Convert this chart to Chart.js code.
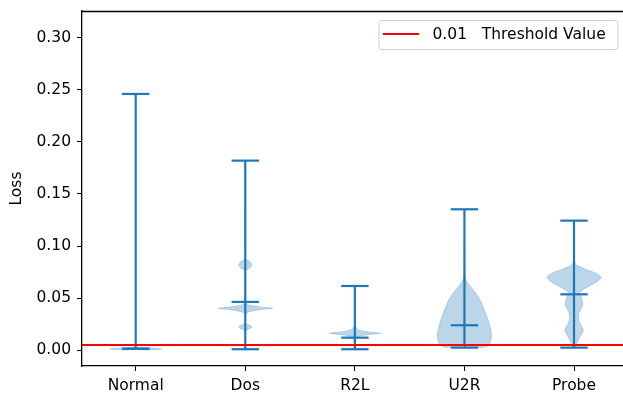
<!DOCTYPE html>
<html>
<head>
<meta charset="utf-8">
<script src="https://cdn.jsdelivr.net/npm/chart.js@4.4.0/dist/chart.umd.min.js"></script>
<style>
  body { margin: 0; background: #fff; }
  #wrap { width: 623px; height: 397px; }
</style>
</head>
<body>
<div id="wrap"><canvas id="violin" width="623" height="397"></canvas></div>
<script>
// categories and summary stats
var categories = ["Normal", "Dos", "R2L", "U2R", "Probe"];
var lossMin = [0.0013, 0.0010, 0.0010, 0.0025, 0.0025];
var lossMax = [0.246, 0.182, 0.0617, 0.1353, 0.1244];
var lossMedian = [0.0016, 0.0464, 0.0121, 0.0240, 0.0537];
var yTicks = [0, 0.05, 0.10, 0.15, 0.20, 0.25, 0.30];

var threshold = 0.005;
var thresholdLabel = "0.01   Threshold Value";

// violin outlines: loss level and relative half width (1 = widest)
var normalY = [0.0003, 0.0008, 0.0013, 0.0018, 0.0024, 0.0032];
var normalW = [0.3, 0.8, 0.95, 0.8, 0.3, 0];
var dosY = [0.0010, 0.0190, 0.0205, 0.0224, 0.0243, 0.0260, 0.0355, 0.0375, 0.0390, 0.0403, 0.0416, 0.0430, 0.0450, 0.0760, 0.0790, 0.0820, 0.0850, 0.0880, 0.1820];
var dosW = [0, 0, 0.14, 0.24, 0.14, 0, 0.03, 0.22, 0.55, 1.0, 0.55, 0.22, 0.03, 0, 0.17, 0.24, 0.17, 0, 0];
var r2lY = [0.0010, 0.0100, 0.0130, 0.0148, 0.0163, 0.0178, 0.0198, 0.0250, 0.0617];
var r2lW = [0.02, 0.03, 0.12, 0.45, 0.95, 0.45, 0.12, 0, 0];
var u2rY = [0.0025, 0.0040, 0.0080, 0.0150, 0.0260, 0.0350, 0.0480, 0.0580, 0.0640, 0.0700, 0.0800, 0.1000, 0.1353];
var u2rW = [0.62, 0.84, 0.95, 0.99, 0.9, 0.78, 0.58, 0.32, 0.13, 0.03, 0.01, 0.003, 0];
var probeY = [0.0025, 0.0080, 0.0130, 0.0195, 0.0240, 0.0290, 0.0360, 0.0435, 0.0500, 0.0550, 0.0580, 0.0620, 0.0660, 0.0700, 0.0740, 0.0780, 0.0820, 0.0880, 0.1244];
var probeW = [0.05, 0.12, 0.22, 0.34, 0.25, 0.17, 0.18, 0.32, 0.28, 0.2, 0.32, 0.58, 0.86, 0.99, 0.8, 0.4, 0.08, 0, 0];

var violinY = [normalY, dosY, r2lY, u2rY, probeY];
var violinW = [normalW, dosW, r2lW, u2rW, probeW];

var blue = "#1f77b4";
var halfWidth = 0.25;   // widest half of a violin, x units
var capHalf = 0.125;    // half length of the min/max/median caps
var xMin = 0.51, xMax = 5.447;
var fontFamily = "'DejaVu Sans', sans-serif";

var datasets = [];

datasets.push({
  label: thresholdLabel,
  data: [{ x: xMin, y: threshold }, { x: xMax, y: threshold }],
  showLine: true,
  borderColor: "red",
  borderWidth: 2,
  pointRadius: 0,
  order: 0,
});

categories.forEach(function (cat, i) {
  var pos = i + 1;
  var segs = [
    [{ x: pos, y: lossMin[i] }, { x: pos, y: lossMax[i] }],
    [{ x: pos - capHalf, y: lossMin[i] }, { x: pos + capHalf, y: lossMin[i] }],
    [{ x: pos - capHalf, y: lossMax[i] }, { x: pos + capHalf, y: lossMax[i] }],
    [{ x: pos - capHalf, y: lossMedian[i] }, { x: pos + capHalf, y: lossMedian[i] }],
  ];
  segs.forEach(function (s) {
    datasets.push({
      label: "",
      data: s,
      showLine: true,
      borderColor: blue,
      borderWidth: 2.2,
      pointRadius: 0,
      order: 1,
    });
  });

  var ys = violinY[i], ws = violinW[i];
  var pts = [];
  for (var k = 0; k < ys.length; k++) pts.push({ x: pos + ws[k] * halfWidth, y: ys[k] });
  for (var k = ys.length - 1; k >= 0; k--) pts.push({ x: pos - ws[k] * halfWidth, y: ys[k] });
  datasets.push({
    label: "",
    data: pts,
    showLine: true,
    fill: "shape",
    backgroundColor: "rgba(31,119,180,0.3)",
    borderColor: "rgba(31,119,180,0.3)",
    borderWidth: 0.8,
    pointRadius: 0,
    tension: 0.2,
    order: 2,
  });
});

var frameAndLegend = {
  id: "frameAndLegend",
  afterDraw: function (chart) {
    var c = chart.ctx, a = chart.chartArea;
    c.save();
    // top spine
    c.strokeStyle = "#000";
    c.lineWidth = 1.3;
    c.beginPath();
    c.moveTo(a.left, a.top + 0.5);
    c.lineTo(a.right, a.top + 0.5);
    c.stroke();

    // legend box
    var bx = a.right - 244, by = a.top + 9.5, bw = 239, bh = 29;
    c.fillStyle = "rgba(255,255,255,0.8)";
    c.strokeStyle = "#d0d0d0";
    c.lineWidth = 1;
    c.beginPath();
    c.roundRect(bx, by, bw, bh, 3);
    c.fill();
    c.stroke();
    c.strokeStyle = "red";
    c.lineWidth = 2;
    c.beginPath();
    c.moveTo(bx + 4, by + 13.5);
    c.lineTo(bx + 40, by + 13.5);
    c.stroke();
    c.fillStyle = "#000";
    c.font = "15.5px " + fontFamily;
    c.textBaseline = "middle";
    c.fillText(thresholdLabel, bx + 53.5, by + 14.5);
    c.restore();
  },
};

var ctx = document.getElementById("violin").getContext("2d");
var chart = new Chart(ctx, {
  type: "scatter",
  data: { datasets: datasets },
  options: {
    responsive: false,
    animation: false,
    layout: { padding: { top: 11, right: 0, left: 0, bottom: 0 } },
    plugins: {
      legend: { display: false },
      tooltip: { enabled: false },
    },
    scales: {
      x: {
        type: "linear",
        min: xMin,
        max: xMax,
        afterBuildTicks: function (scale) {
          scale.ticks = categories.map(function (c, i) { return { value: i + 1 }; });
        },
        afterFit: function (scale) {
          scale.height = 31;
          scale.paddingLeft = 0;
          scale.paddingRight = 0;
        },
        grid: { drawOnChartArea: false, drawTicks: true, tickLength: 5, tickColor: "#000" },
        border: { color: "#000", width: 1.3 },
        ticks: {
          color: "#000",
          padding: 6,
          maxRotation: 0,
          font: { family: fontFamily, size: 15.5 },
          callback: function (v) { return categories[Math.round(v) - 1]; },
        },
      },
      y: {
        min: -0.0151,
        max: 0.3256,
        afterBuildTicks: function (scale) {
          scale.ticks = yTicks.map(function (v) { return { value: v }; });
        },
        afterFit: function (scale) {
          scale.width = 82;
          scale.paddingTop = 0;
          scale.paddingBottom = 0;
        },
        grid: { drawOnChartArea: false, drawTicks: true, tickLength: 5, tickColor: "#000" },
        border: { color: "#000", width: 1.3 },
        ticks: {
          color: "#000",
          padding: 6,
          font: { family: fontFamily, size: 15.5 },
          callback: function (v) { return v.toFixed(2); },
        },
        title: {
          display: true,
          text: "Loss",
          color: "#000",
          padding: { top: 8, bottom: 0 },
          font: { family: fontFamily, size: 15.5 },
        },
      },
    },
  },
  plugins: [frameAndLegend],
});
</script>
</body>
</html>
